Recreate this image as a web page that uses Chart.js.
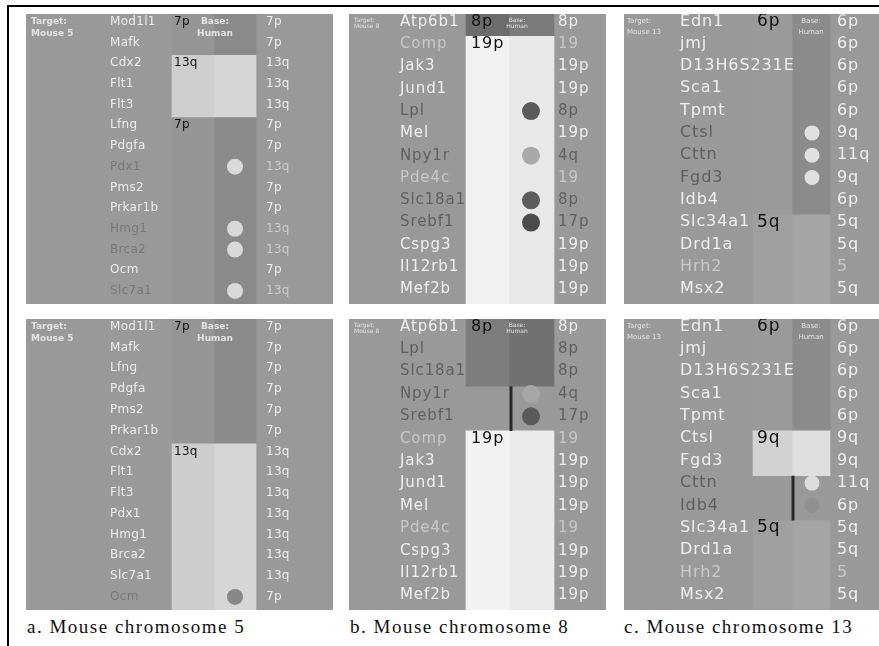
<!DOCTYPE html>
<html><head><meta charset="utf-8">
<script src="https://cdn.jsdelivr.net/npm/chart.js@4.4.1/dist/chart.umd.min.js"></script>
<style>
body{margin:0;background:#fff;width:879px;height:646px;position:relative;overflow:hidden;}
#frameTop{position:absolute;left:7px;top:5px;width:872px;height:2px;background:#000;}
#frameLeft{position:absolute;left:7px;top:5px;width:2px;height:641px;background:#000;}
canvas{position:absolute;background:#999999;}
.cap{position:absolute;top:616px;font-family:"Liberation Serif","DejaVu Serif",serif;font-size:19px;letter-spacing:1.5px;color:#111;white-space:nowrap;}
</style></head><body>
<div id="frameTop"></div><div id="frameLeft"></div>
<canvas id="a1" width="307" height="290" style="left:26px;top:14px"></canvas>
<canvas id="b1" width="257" height="290" style="left:349px;top:14px"></canvas>
<canvas id="c1" width="255" height="290" style="left:624px;top:14px"></canvas>
<canvas id="a2" width="307" height="291" style="left:26px;top:319px"></canvas>
<canvas id="b2" width="257" height="291" style="left:349px;top:319px"></canvas>
<canvas id="c2" width="255" height="291" style="left:624px;top:319px"></canvas>
<div class="cap" style="left:27px">a. Mouse chromosome 5</div>
<div class="cap" style="left:350px">b. Mouse chromosome 8</div>
<div class="cap" style="left:624px">c. Mouse chromosome 13</div>
<script>
// ---------- DATA ----------
const targetA = ['Target:', 'Mouse 5'];
const targetB = ['Target:', 'Mouse 8'];
const targetC = ['Target:', 'Mouse 13'];
const baseLabel = ['Base:', 'Human'];

// Panel a, top
const genesA1 = ['Mod1l1','Mafk','Cdx2','Flt1','Flt3','Lfng','Pdgfa','Pdx1','Pms2','Prkar1b','Hmg1','Brca2','Ocm','Slc7a1'];
const humanA1 = ['7p','7p','13q','13q','13q','7p','7p','13q','7p','7p','13q','13q','7p','13q'];
const geneToneA1 = ['w','w','w','w','w','w','w','d','w','w','d','d','w','d'];
const humanToneA1 = ['w','w','w','w','w','w','w','l','w','w','l','l','w','l'];
const blockLabelA1 = ['7p','13q','7p'];
const blockFirstA1 = [0,2,5];
const blockLastA1 = [1,4,13];
const circleRowsA1 = [7,10,11,13];

// Panel a, bottom
const genesA2 = ['Mod1l1','Mafk','Lfng','Pdgfa','Pms2','Prkar1b','Cdx2','Flt1','Flt3','Pdx1','Hmg1','Brca2','Slc7a1','Ocm'];
const humanA2 = ['7p','7p','7p','7p','7p','7p','13q','13q','13q','13q','13q','13q','13q','7p'];
const geneToneA2 = ['w','w','w','w','w','w','w','w','w','w','w','w','w','d'];
const humanToneA2 = ['w','w','w','w','w','w','w','w','w','w','w','w','w','w'];
const blockLabelA2 = ['7p','13q'];
const blockFirstA2 = [0,6];
const blockLastA2 = [5,13];
const circleRowsA2 = [13];

// Panel b, top
const genesB1 = ['Atp6b1','Comp','Jak3','Jund1','Lpl','Mel','Npy1r','Pde4c','Slc18a1','Srebf1','Cspg3','Il12rb1','Mef2b'];
const humanB1 = ['8p','19','19p','19p','8p','19p','4q','19','8p','17p','19p','19p','19p'];
const geneToneB1 = ['w','l','w','w','d','w','d','l','d','d','w','w','w'];
const humanToneB1 = ['w','l','w','w','d','w','d','l','d','d','w','w','w'];
const blockLabelB1 = ['8p','19p'];
const blockFirstB1 = [0,1];
const blockLastB1 = [0,12];
const circleRowsB1 = [4,6,8,9];

// Panel b, bottom
const genesB2 = ['Atp6b1','Lpl','Slc18a1','Npy1r','Srebf1','Comp','Jak3','Jund1','Mel','Pde4c','Cspg3','Il12rb1','Mef2b'];
const humanB2 = ['8p','8p','8p','4q','17p','19','19p','19p','19p','19','19p','19p','19p'];
const geneToneB2 = ['w','d','d','d','d','l','w','w','w','l','w','w','w'];
const humanToneB2 = ['w','d','d','d','d','l','w','w','w','l','w','w','w'];
const blockLabelB2 = ['8p','19p'];
const blockFirstB2 = [0,5];
const blockLastB2 = [2,12];
const circleRowsB2 = [3,4];
const linkRowsB2 = [3,4];

// Panel c, top
const genesC1 = ['Edn1','jmj','D13H6S231E','Sca1','Tpmt','Ctsl','Cttn','Fgd3','Idb4','Slc34a1','Drd1a','Hrh2','Msx2'];
const humanC1 = ['6p','6p','6p','6p','6p','9q','11q','9q','6p','5q','5q','5','5q'];
const geneToneC1 = ['w','w','w','w','w','d','d','d','w','w','w','l','w'];
const humanToneC1 = ['w','w','w','w','w','w','w','w','w','w','w','l','w'];
const blockLabelC1 = ['6p','5q'];
const blockFirstC1 = [0,9];
const blockLastC1 = [8,12];
const circleRowsC1 = [5,6,7];

// Panel c, bottom
const genesC2 = ['Edn1','jmj','D13H6S231E','Sca1','Tpmt','Ctsl','Fgd3','Cttn','Idb4','Slc34a1','Drd1a','Hrh2','Msx2'];
const humanC2 = ['6p','6p','6p','6p','6p','9q','9q','11q','6p','5q','5q','5','5q'];
const geneToneC2 = ['w','w','w','w','w','w','w','d','d','w','w','l','w'];
const humanToneC2 = ['w','w','w','w','w','w','w','w','w','w','w','l','w'];
const blockLabelC2 = ['6p','9q','5q'];
const blockFirstC2 = [0,5,9];
const blockLastC2 = [4,6,12];
const circleRowsC2 = [7,8];
const linkRowsC2 = [7,8];

// ---------- STYLES ----------
const styleA1 = {leftColors:['#959595','#cecece','#959595'], rightColors:['#8a8a8a','#d6d6d6','#8a8a8a'], circleColors:['#d9d9d9','#d9d9d9','#d9d9d9','#d9d9d9']};
const styleA2 = {leftColors:['#959595','#cdcdcd'], rightColors:['#8a8a8a','#d6d6d6'], circleColors:['#878787']};
const styleB1 = {leftColors:['#6c6c6c','#f1f1f1'], rightColors:['#7a7a7a','#e8e8e8'], circleColors:['#5b5b5b','#a9a9a9','#5d5d5d','#4b4b4b']};
const styleB2 = {leftColors:['#7d7d7d','#f2f2f2'], rightColors:['#717171','#ebebeb'], circleColors:['#a6a6a6','#5a5a5a']};
const styleC1 = {leftColors:['#9a9a9a','#9f9f9f'], rightColors:['#8b8b8b','#a4a4a4'], circleColors:['#e0e0e0','#e0e0e0','#e0e0e0']};
const styleC2 = {leftColors:['#9a9a9a','#d2d2d2','#9f9f9f'], rightColors:['#8b8b8b','#dedede','#a4a4a4'], circleColors:['#dcdcdc','#8f8f8f']};

const layoutA = {W:307, colL:[146,188], colR:[188,230], circleX:209, circleR:8, lineX:null,
  geneX:84, humanX:240, blockX:148, baseX:189, targetX:5,
  geneFont:'12px "DejaVu Sans"', blockFont:'12px "DejaVu Sans"', metaFont:'bold 9px "DejaVu Sans"',
  spacing:'0.3px', metaY:[3,15], textOff:0.37,
  tones:{w:'#ececec', l:'#cbcbcb', d:'#777777'}};
const layoutB = {W:257, colL:[117,160], colR:[160,205], circleX:182, circleR:9, lineX:162,
  geneX:51, humanX:209, blockX:122, baseX:168, targetX:5,
  geneFont:'15px "DejaVu Sans"', blockFont:'16px "DejaVu Sans"', metaFont:'6px "DejaVu Sans"',
  spacing:'0.9px', metaY:[3,9], textOff:0.35,
  tones:{w:'#eeeeee', l:'#c8c8c8', d:'#606060'}};
const layoutC = {W:255, colL:[129,168], colR:[168,206], circleX:188, circleR:7.5, lineX:169,
  geneX:56, humanX:213, blockX:133, baseX:187, targetX:3,
  geneFont:'16px "DejaVu Sans"', blockFont:'17px "DejaVu Sans"', metaFont:'7px "DejaVu Sans"',
  spacing:'0.9px', metaY:[4,15], textOff:0.33,
  tones:{w:'#eeeeee', l:'#c8c8c8', d:'#5e5e5e'}};

// ---------- DRAWING ----------
function makePanel(id, lay, st, genes, human, gTone, hTone, bLabel, bFirst, bLast, circles, link, target) {
  const n = genes.length;
  const cl = (lay.colL[0] + lay.colL[1]) / 2, cr = (lay.colR[0] + lay.colR[1]) / 2;
  const textPlugin = {
    id: 'txt' + id,
    afterDatasetsDraw(chart) {
      const ctx = chart.ctx, xs = chart.scales.x, ys = chart.scales.y;
      ctx.save();
      ctx.textBaseline = 'middle';
      ctx.textAlign = 'left';
      ctx.letterSpacing = lay.spacing;
      ctx.font = lay.geneFont;
      genes.forEach((g, i) => {
        const y = ys.getPixelForValue(i + lay.textOff);
        ctx.fillStyle = lay.tones[gTone[i]];
        ctx.fillText(g, xs.getPixelForValue(lay.geneX), y);
        ctx.fillStyle = lay.tones[hTone[i]];
        ctx.fillText(human[i], xs.getPixelForValue(lay.humanX), y);
      });
      ctx.font = lay.blockFont;
      ctx.fillStyle = '#111111';
      bLabel.forEach((b, k) => {
        ctx.fillText(b, xs.getPixelForValue(lay.blockX), ys.getPixelForValue(bFirst[k] + lay.textOff));
      });
      ctx.letterSpacing = '0px';
      ctx.font = lay.metaFont;
      ctx.fillStyle = '#e2e2e2';
      ctx.textBaseline = 'top';
      target.forEach((t, k) => ctx.fillText(t, xs.getPixelForValue(lay.targetX), lay.metaY[k]));
      ctx.textAlign = 'center';
      baseLabel.forEach((t, k) => ctx.fillText(t, xs.getPixelForValue(lay.baseX), lay.metaY[k]));
      ctx.restore();
    }
  };
  const datasets = [
    {type:'bar', order:2, grouped:false, data: bFirst.map((s, k) => ({x: cl, y: [s, bLast[k] + 1]})),
     backgroundColor: st.leftColors, barThickness: lay.colL[1] - lay.colL[0], borderWidth: 0},
    {type:'bar', order:2, grouped:false, data: bFirst.map((s, k) => ({x: cr, y: [s, bLast[k] + 1]})),
     backgroundColor: st.rightColors, barThickness: lay.colR[1] - lay.colR[0], borderWidth: 0},
    {type:'scatter', order:0, data: circles.map(r => ({x: lay.circleX, y: r + lay.textOff})),
     pointRadius: lay.circleR, pointBackgroundColor: st.circleColors, pointBorderWidth: 0}
  ];
  if (link) {
    datasets.push({type:'line', order:1, data: [{x: lay.lineX, y: link[0]}, {x: lay.lineX, y: link[1] + 1}],
      borderColor:'#2a2a2a', borderWidth:3, pointRadius:0, fill:false});
  }
  new Chart(document.getElementById(id), {
    type: 'bar',
    data: {datasets},
    options: {
      responsive:false, animation:false, devicePixelRatio:1, events:[],
      layout:{padding:0, autoPadding:false},
      scales:{
        x:{type:'linear', min:0, max:lay.W, offset:false, display:false},
        y:{type:'linear', min:0, max:n, reverse:true, display:false}
      },
      plugins:{legend:{display:false}, tooltip:{enabled:false}, title:{display:false}}
    },
    plugins:[textPlugin]
  });
}

makePanel('a1', layoutA, styleA1, genesA1, humanA1, geneToneA1, humanToneA1, blockLabelA1, blockFirstA1, blockLastA1, circleRowsA1, null, targetA);
makePanel('a2', layoutA, styleA2, genesA2, humanA2, geneToneA2, humanToneA2, blockLabelA2, blockFirstA2, blockLastA2, circleRowsA2, null, targetA);
makePanel('b1', layoutB, styleB1, genesB1, humanB1, geneToneB1, humanToneB1, blockLabelB1, blockFirstB1, blockLastB1, circleRowsB1, null, targetB);
makePanel('b2', layoutB, styleB2, genesB2, humanB2, geneToneB2, humanToneB2, blockLabelB2, blockFirstB2, blockLastB2, circleRowsB2, linkRowsB2, targetB);
makePanel('c1', layoutC, styleC1, genesC1, humanC1, geneToneC1, humanToneC1, blockLabelC1, blockFirstC1, blockLastC1, circleRowsC1, null, targetC);
makePanel('c2', layoutC, styleC2, genesC2, humanC2, geneToneC2, humanToneC2, blockLabelC2, blockFirstC2, blockLastC2, circleRowsC2, linkRowsC2, targetC);
</script>
</body></html>
